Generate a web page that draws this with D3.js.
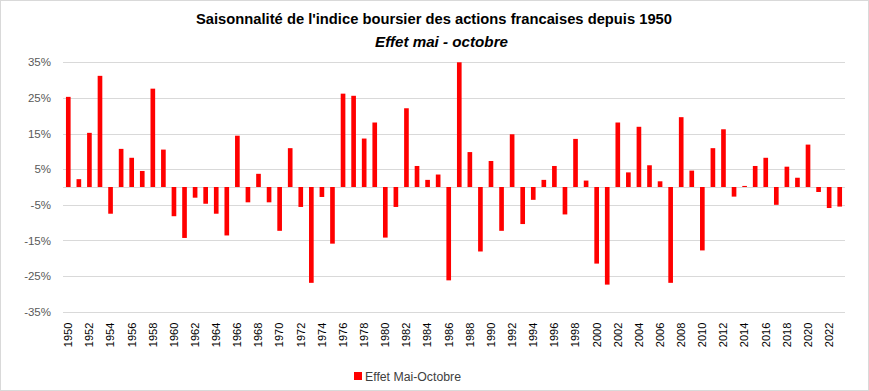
<!DOCTYPE html>
<html><head><meta charset="utf-8">
<script src="https://cdn.jsdelivr.net/npm/d3@7"></script>
<style>body{margin:0;background:#fff}svg{display:block}</style>
</head><body>
<svg id="c" width="869" height="391"></svg>
<script>
const years = d3.range(1950, 2024);
const values = [25.3, 2.2, 15.2, 31.2, -7.5, 10.7, 8.2, 4.5, 27.6, 10.5,
  -8.2, -14.3, -3.0, -4.7, -7.5, -13.6, 14.4, -4.3, 3.7, -4.3,
  -12.3, 10.9, -5.6, -26.9, -2.8, -15.9, 26.2, 25.6, 13.6, 18.1,
  -14.2, -5.6, 22.1, 5.9, 2.0, 3.5, -26.2, 35.0, 9.8, -18.1,
  7.3, -12.3, 14.8, -10.4, -3.6, 2.0, 5.9, -7.7, 13.5, 1.8,
  -21.5, -27.4, 18.1, 4.1, 16.9, 6.1, 1.6, -26.9, 19.6, 4.6,
  -17.8, 10.9, 16.2, -2.7, 0.3, 5.9, 8.2, -5.0, 5.7, 2.6,
  11.9, -1.4, -5.9, -5.5];
const yTicks = [-35, -25, -15, -5, 5, 15, 25, 35];
const xTickLabels = years.filter(y => y % 2 === 0);
const title = "Saisonnalité de l'indice boursier des actions francaises depuis 1950";
const subtitle = "Effet mai - octobre";
const seriesName = "Effet Mai-Octobre";

const svg = d3.select("#c");
const W = 869, H = 391;
const m = {left: 63, right: 24, top: 62.3, bottom: 79.3};
svg.append("rect").attr("x", 0.5).attr("y", 0.5).attr("width", W - 1).attr("height", H - 1)
  .attr("fill", "#fff").attr("stroke", "#d9d9d9");

const x = d3.scaleBand().domain(years).range([m.left, W - m.right]).paddingInner(0.56).paddingOuter(0.28);
const y = d3.scaleLinear().domain([-35, 35]).range([H - m.bottom, m.top]);

// gridlines
svg.append("g").selectAll("line").data(yTicks).join("line")
  .attr("x1", m.left).attr("x2", W - m.right)
  .attr("y1", d => Math.round(y(d)) + 0.5).attr("y2", d => Math.round(y(d)) + 0.5)
  .attr("stroke", "#d9d9d9").attr("stroke-width", 1);
svg.append("line").attr("x1", m.left).attr("x2", W - m.right)
  .attr("y1", Math.round(y(0)) + 0.5).attr("y2", Math.round(y(0)) + 0.5)
  .attr("stroke", "#d9d9d9");

// y axis labels
const yAxis = d3.axisLeft(y).tickValues(yTicks).tickFormat(d => d + "%").tickSize(0).tickPadding(12);
const ga = svg.append("g").attr("transform", `translate(${m.left},0)`).call(yAxis);
ga.select(".domain").remove();
ga.selectAll("text").attr("font-family", "Liberation Sans, Arial, sans-serif").attr("font-size", 11.5).attr("fill", "#595959");

// bars
svg.append("g").selectAll("rect").data(years).join("rect")
  .attr("x", d => x(d))
  .attr("width", x.bandwidth())
  .attr("y", (d, i) => y(Math.max(0, values[i])))
  .attr("height", (d, i) => Math.abs(y(values[i]) - y(0)))
  .attr("fill", "#ff0000");

// x axis labels
const xAxis = d3.axisBottom(x).tickValues(xTickLabels).tickSize(0).tickPadding(0);
const gx = svg.append("g").attr("transform", `translate(0,${H - m.bottom})`).call(xAxis);
gx.select(".domain").remove();
gx.selectAll("text")
  .attr("font-family", "Liberation Sans, Arial, sans-serif").attr("font-size", 11).attr("fill", "#000")
  .attr("transform", "rotate(-90)")
  .attr("text-anchor", "end")
  .attr("x", -11).attr("y", 0).attr("dy", "0.35em");

// title
svg.append("text").attr("x", 434).attr("y", 24.3).attr("text-anchor", "middle")
  .attr("font-family", "Liberation Sans, Arial, sans-serif").attr("font-weight", "bold").attr("font-size", 15)
  .attr("textLength", 476).attr("lengthAdjust", "spacingAndGlyphs").attr("fill", "#000").text(title);
svg.append("text").attr("x", 441.5).attr("y", 47).attr("text-anchor", "middle")
  .attr("font-family", "Liberation Sans, Arial, sans-serif").attr("font-weight", "bold").attr("font-style", "italic").attr("font-size", 15)
  .attr("textLength", 133).attr("lengthAdjust", "spacingAndGlyphs").attr("fill", "#000").text(subtitle);

// legend
const lg = svg.append("g");
lg.append("rect").attr("x", 354).attr("y", 372).attr("width", 8).attr("height", 8).attr("fill", "#ff0000");
lg.append("text").attr("x", 365).attr("y", 380.5)
  .attr("font-family", "Liberation Sans, Arial, sans-serif").attr("font-size", 12)
  .attr("textLength", 96).attr("lengthAdjust", "spacingAndGlyphs").attr("fill", "#404040").text(seriesName);
</script>
</body></html>
